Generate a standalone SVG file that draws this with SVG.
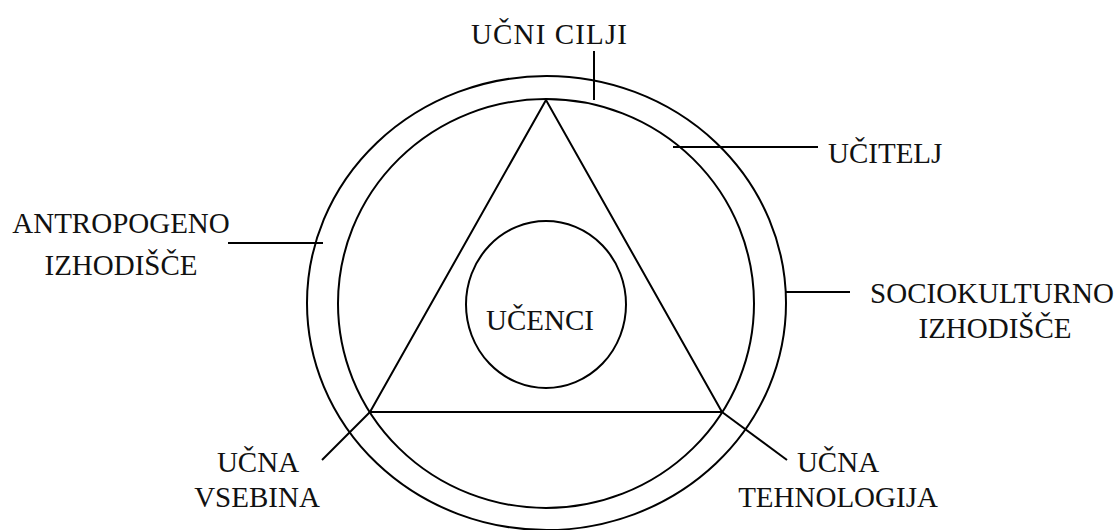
<svg xmlns="http://www.w3.org/2000/svg" width="1120" height="530" viewBox="0 0 1120 530">
<style>
.s{fill:none;stroke:#000;stroke-width:2}
.t{font-family:"Liberation Serif","Times New Roman",serif;font-size:29px;fill:#111;text-anchor:middle}
</style>
<rect width="1120" height="530" fill="#fff"/>
<g id="outer"><ellipse class="s" cx="546.5" cy="303" rx="239.5" ry="227"/></g>
<g id="inner"><ellipse class="s" cx="546" cy="303.5" rx="208" ry="204.5"/></g>
<g id="triangle"><polygon class="s" points="546,100 370,412 722,412"/></g>
<g id="ucenci"><ellipse class="s" cx="546" cy="304.5" rx="80" ry="83.5"/><text class="t" x="540" y="330">UČENCI</text></g>
<g id="connectors">
<line class="s" x1="594" y1="51" x2="594" y2="100"/>
<line class="s" x1="673" y1="147" x2="818" y2="147"/>
<line class="s" x1="228" y1="243" x2="323" y2="243"/>
<line class="s" x1="786" y1="292" x2="850" y2="292"/>
<line class="s" x1="370" y1="412" x2="322" y2="460"/>
<line class="s" x1="722" y1="412" x2="787" y2="460"/>
</g>
<g id="cilji"><text class="t" x="549" y="44" textLength="156" lengthAdjust="spacing">UČNI CILJI</text></g>
<g id="ucitelj"><text class="t" x="828" y="163" style="text-anchor:start">UČITELJ</text></g>
<g id="antropogeno"><text class="t" x="121" y="233">ANTROPOGENO</text><text class="t" x="121" y="275">IZHODIŠČE</text></g>
<g id="sociokulturno"><text class="t" x="992" y="303">SOCIOKULTURNO</text><text class="t" x="995" y="338">IZHODIŠČE</text></g>
<g id="vsebina"><text class="t" x="258" y="472">UČNA</text><text class="t" x="257" y="507">VSEBINA</text></g>
<g id="tehnologija"><text class="t" x="838" y="472">UČNA</text><text class="t" x="838" y="507">TEHNOLOGIJA</text></g>
</svg>
